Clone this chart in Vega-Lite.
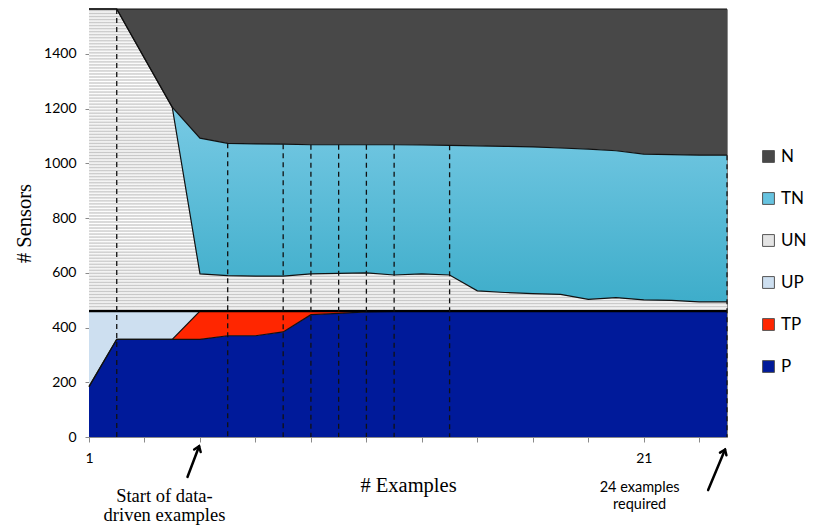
{
  "$schema": "https://vega.github.io/schema/vega-lite/v6.json",
  "width": 638,
  "height": 428,
  "autosize": "none",
  "padding": {"left": 89, "top": 9, "right": 87, "bottom": 90},
  "background": "white",
  "config": {"view": {"stroke": "#8a8a8a", "strokeWidth": 1}},
  "datasets": {
    "cats": [
      {"cat": "P", "ord": 1}, {"cat": "TP", "ord": 2}, {"cat": "UP", "ord": 3},
      {"cat": "UN", "ord": 4}, {"cat": "TN", "ord": 5}, {"cat": "N", "ord": 6}
    ],
    "main": [
      {"ex":1,"cat":"P","v":184},{"ex":2,"cat":"P","v":357},{"ex":3,"cat":"P","v":357},{"ex":4,"cat":"P","v":357},{"ex":5,"cat":"P","v":357},{"ex":6,"cat":"P","v":370},{"ex":7,"cat":"P","v":370},{"ex":8,"cat":"P","v":384},{"ex":9,"cat":"P","v":447},{"ex":10,"cat":"P","v":452},{"ex":11,"cat":"P","v":457},{"ex":12,"cat":"P","v":459},{"ex":13,"cat":"P","v":460},{"ex":14,"cat":"P","v":460},{"ex":15,"cat":"P","v":460},{"ex":16,"cat":"P","v":460},{"ex":17,"cat":"P","v":460},{"ex":18,"cat":"P","v":460},{"ex":19,"cat":"P","v":460},{"ex":20,"cat":"P","v":460},{"ex":21,"cat":"P","v":460},{"ex":22,"cat":"P","v":460},{"ex":23,"cat":"P","v":460},{"ex":24,"cat":"P","v":460},
      {"ex":1,"cat":"TP","v":0},{"ex":2,"cat":"TP","v":0},{"ex":3,"cat":"TP","v":0},{"ex":4,"cat":"TP","v":0},{"ex":5,"cat":"TP","v":103},{"ex":6,"cat":"TP","v":90},{"ex":7,"cat":"TP","v":90},{"ex":8,"cat":"TP","v":76},{"ex":9,"cat":"TP","v":13},{"ex":10,"cat":"TP","v":8},{"ex":11,"cat":"TP","v":3},{"ex":12,"cat":"TP","v":1},{"ex":13,"cat":"TP","v":0},{"ex":14,"cat":"TP","v":0},{"ex":15,"cat":"TP","v":0},{"ex":16,"cat":"TP","v":0},{"ex":17,"cat":"TP","v":0},{"ex":18,"cat":"TP","v":0},{"ex":19,"cat":"TP","v":0},{"ex":20,"cat":"TP","v":0},{"ex":21,"cat":"TP","v":0},{"ex":22,"cat":"TP","v":0},{"ex":23,"cat":"TP","v":0},{"ex":24,"cat":"TP","v":0},
      {"ex":1,"cat":"UP","v":276},{"ex":2,"cat":"UP","v":103},{"ex":3,"cat":"UP","v":103},{"ex":4,"cat":"UP","v":103},{"ex":5,"cat":"UP","v":0},{"ex":6,"cat":"UP","v":0},{"ex":7,"cat":"UP","v":0},{"ex":8,"cat":"UP","v":0},{"ex":9,"cat":"UP","v":0},{"ex":10,"cat":"UP","v":0},{"ex":11,"cat":"UP","v":0},{"ex":12,"cat":"UP","v":0},{"ex":13,"cat":"UP","v":0},{"ex":14,"cat":"UP","v":0},{"ex":15,"cat":"UP","v":0},{"ex":16,"cat":"UP","v":0},{"ex":17,"cat":"UP","v":0},{"ex":18,"cat":"UP","v":0},{"ex":19,"cat":"UP","v":0},{"ex":20,"cat":"UP","v":0},{"ex":21,"cat":"UP","v":0},{"ex":22,"cat":"UP","v":0},{"ex":23,"cat":"UP","v":0},{"ex":24,"cat":"UP","v":0},
      {"ex":1,"cat":"UN","v":1104},{"ex":2,"cat":"UN","v":1104},{"ex":3,"cat":"UN","v":924},{"ex":4,"cat":"UN","v":745},{"ex":5,"cat":"UN","v":136},{"ex":6,"cat":"UN","v":130},{"ex":7,"cat":"UN","v":128},{"ex":8,"cat":"UN","v":128},{"ex":9,"cat":"UN","v":136},{"ex":10,"cat":"UN","v":138},{"ex":11,"cat":"UN","v":140},{"ex":12,"cat":"UN","v":132},{"ex":13,"cat":"UN","v":136},{"ex":14,"cat":"UN","v":132},{"ex":15,"cat":"UN","v":74},{"ex":16,"cat":"UN","v":68},{"ex":17,"cat":"UN","v":64},{"ex":18,"cat":"UN","v":61},{"ex":19,"cat":"UN","v":43},{"ex":20,"cat":"UN","v":49},{"ex":21,"cat":"UN","v":41},{"ex":22,"cat":"UN","v":39},{"ex":23,"cat":"UN","v":34},{"ex":24,"cat":"UN","v":34},
      {"ex":1,"cat":"TN","v":0},{"ex":2,"cat":"TN","v":0},{"ex":3,"cat":"TN","v":0},{"ex":4,"cat":"TN","v":0},{"ex":5,"cat":"TN","v":496},{"ex":6,"cat":"TN","v":483},{"ex":7,"cat":"TN","v":483},{"ex":8,"cat":"TN","v":482},{"ex":9,"cat":"TN","v":472},{"ex":10,"cat":"TN","v":470},{"ex":11,"cat":"TN","v":468},{"ex":12,"cat":"TN","v":476},{"ex":13,"cat":"TN","v":471},{"ex":14,"cat":"TN","v":474},{"ex":15,"cat":"TN","v":530},{"ex":16,"cat":"TN","v":534},{"ex":17,"cat":"TN","v":536},{"ex":18,"cat":"TN","v":535},{"ex":19,"cat":"TN","v":549},{"ex":20,"cat":"TN","v":537},{"ex":21,"cat":"TN","v":533},{"ex":22,"cat":"TN","v":533},{"ex":23,"cat":"TN","v":536},{"ex":24,"cat":"TN","v":536},
      {"ex":1,"cat":"N","v":0},{"ex":2,"cat":"N","v":0},{"ex":3,"cat":"N","v":180},{"ex":4,"cat":"N","v":359},{"ex":5,"cat":"N","v":472},{"ex":6,"cat":"N","v":491},{"ex":7,"cat":"N","v":493},{"ex":8,"cat":"N","v":494},{"ex":9,"cat":"N","v":496},{"ex":10,"cat":"N","v":496},{"ex":11,"cat":"N","v":496},{"ex":12,"cat":"N","v":496},{"ex":13,"cat":"N","v":497},{"ex":14,"cat":"N","v":498},{"ex":15,"cat":"N","v":500},{"ex":16,"cat":"N","v":502},{"ex":17,"cat":"N","v":504},{"ex":18,"cat":"N","v":508},{"ex":19,"cat":"N","v":512},{"ex":20,"cat":"N","v":518},{"ex":21,"cat":"N","v":530},{"ex":22,"cat":"N","v":532},{"ex":23,"cat":"N","v":534},{"ex":24,"cat":"N","v":534}
    ]
  },
  "layer": [
    {
      "data": {"name": "main"},
      "transform": [
        {"lookup": "cat", "from": {"data": {"name": "cats"}, "key": "cat", "fields": ["ord"]}},
        {"stack": "v", "groupby": ["ex"], "sort": [{"field": "ord", "order": "ascending"}], "as": ["v0", "v1"]}
      ],
      "layer": [
        {
          "mark": {"type": "area", "interpolate": "linear"},
          "encoding": {
            "x": {"field": "ex", "type": "quantitative",
              "scale": {"domain": [1, 24], "nice": false, "zero": false},
              "axis": {"title": "# Examples", "values": [1,2,3,4,5,6,7,8,9,10,11,12,13,14,15,16,17,18,19,20,21,22,23,24],
                "labelExpr": "datum.value == 1 || datum.value == 21 ? datum.label : ''",
                "grid": false, "labelFlush": false, "tickColor": "#8a8a8a", "domainColor": "#8a8a8a", "tickSize": 5,
                "labelFont": "Lato", "labelFontSize": 14, "labelColor": "#000", "labelPadding": 9,
                "titleFont": "Liberation Serif", "titleFontSize": 20.5, "titleFontWeight": "normal", "titleColor": "#000", "titlePadding": 10}},
            "y": {"field": "v1", "type": "quantitative", "stack": null,
              "scale": {"domain": [0, 1564], "nice": false, "zero": true},
              "axis": {"title": "# Sensors", "values": [0,200,400,600,800,1000,1200,1400], "format": "d",
                "grid": false, "tickColor": "#8a8a8a", "domainColor": "#8a8a8a", "tickSize": 4,
                "labelFont": "Lato", "labelFontSize": 14, "labelColor": "#000", "labelPadding": 9,
                "titleFont": "Liberation Serif", "titleFontSize": 20.5, "titleFontWeight": "normal", "titleColor": "#000", "titlePadding": 9}},
            "y2": {"field": "v0"},
            "color": {"field": "cat", "type": "nominal",
              "scale": {"domain": ["N","TN","UN","UP","TP","P"], "range": ["#484848","#66c3e0","#e4e4e4","#cddff0","#ff2600","#001a9a"]},
              "legend": {"orient": "none", "legendX": 671, "legendY": 139, "title": null,
                "symbolType": "square", "symbolSize": 140, "symbolStrokeColor": "#555", "symbolStrokeWidth": 1,
                "labelFont": "Lato", "labelFontSize": 17, "labelColor": "#000", "rowPadding": 24, "labelOffset": 4}}
          }
        },
        {
          "transform": [{"filter": {"field": "cat", "equal": "UN"}}],
          "mark": {"type": "area", "interpolate": "linear",
            "fill": {"gradient": "linear", "x1": 0, "y1": 0, "x2": 0, "y2": 1,
              "stops": [
{"offset":0,"color":"#fff"},{"offset":0.005,"color":"#c8c8c8"},{"offset":0.01,"color":"#fff"},{"offset":0.015,"color":"#c8c8c8"},{"offset":0.02,"color":"#fff"},{"offset":0.025,"color":"#c8c8c8"},{"offset":0.03,"color":"#fff"},{"offset":0.035,"color":"#c8c8c8"},{"offset":0.04,"color":"#fff"},{"offset":0.045,"color":"#c8c8c8"},
{"offset":0.05,"color":"#fff"},{"offset":0.055,"color":"#c8c8c8"},{"offset":0.06,"color":"#fff"},{"offset":0.065,"color":"#c8c8c8"},{"offset":0.07,"color":"#fff"},{"offset":0.075,"color":"#c8c8c8"},{"offset":0.08,"color":"#fff"},{"offset":0.085,"color":"#c8c8c8"},{"offset":0.09,"color":"#fff"},{"offset":0.095,"color":"#c8c8c8"},
{"offset":0.1,"color":"#fff"},{"offset":0.105,"color":"#c8c8c8"},{"offset":0.11,"color":"#fff"},{"offset":0.115,"color":"#c8c8c8"},{"offset":0.12,"color":"#fff"},{"offset":0.125,"color":"#c8c8c8"},{"offset":0.13,"color":"#fff"},{"offset":0.135,"color":"#c8c8c8"},{"offset":0.14,"color":"#fff"},{"offset":0.145,"color":"#c8c8c8"},
{"offset":0.15,"color":"#fff"},{"offset":0.155,"color":"#c8c8c8"},{"offset":0.16,"color":"#fff"},{"offset":0.165,"color":"#c8c8c8"},{"offset":0.17,"color":"#fff"},{"offset":0.175,"color":"#c8c8c8"},{"offset":0.18,"color":"#fff"},{"offset":0.185,"color":"#c8c8c8"},{"offset":0.19,"color":"#fff"},{"offset":0.195,"color":"#c8c8c8"},
{"offset":0.2,"color":"#fff"},{"offset":0.205,"color":"#c8c8c8"},{"offset":0.21,"color":"#fff"},{"offset":0.215,"color":"#c8c8c8"},{"offset":0.22,"color":"#fff"},{"offset":0.225,"color":"#c8c8c8"},{"offset":0.23,"color":"#fff"},{"offset":0.235,"color":"#c8c8c8"},{"offset":0.24,"color":"#fff"},{"offset":0.245,"color":"#c8c8c8"},
{"offset":0.25,"color":"#fff"},{"offset":0.255,"color":"#c8c8c8"},{"offset":0.26,"color":"#fff"},{"offset":0.265,"color":"#c8c8c8"},{"offset":0.27,"color":"#fff"},{"offset":0.275,"color":"#c8c8c8"},{"offset":0.28,"color":"#fff"},{"offset":0.285,"color":"#c8c8c8"},{"offset":0.29,"color":"#fff"},{"offset":0.295,"color":"#c8c8c8"},
{"offset":0.3,"color":"#fff"},{"offset":0.305,"color":"#c8c8c8"},{"offset":0.31,"color":"#fff"},{"offset":0.315,"color":"#c8c8c8"},{"offset":0.32,"color":"#fff"},{"offset":0.325,"color":"#c8c8c8"},{"offset":0.33,"color":"#fff"},{"offset":0.335,"color":"#c8c8c8"},{"offset":0.34,"color":"#fff"},{"offset":0.345,"color":"#c8c8c8"},
{"offset":0.35,"color":"#fff"},{"offset":0.355,"color":"#c8c8c8"},{"offset":0.36,"color":"#fff"},{"offset":0.365,"color":"#c8c8c8"},{"offset":0.37,"color":"#fff"},{"offset":0.375,"color":"#c8c8c8"},{"offset":0.38,"color":"#fff"},{"offset":0.385,"color":"#c8c8c8"},{"offset":0.39,"color":"#fff"},{"offset":0.395,"color":"#c8c8c8"},
{"offset":0.4,"color":"#fff"},{"offset":0.405,"color":"#c8c8c8"},{"offset":0.41,"color":"#fff"},{"offset":0.415,"color":"#c8c8c8"},{"offset":0.42,"color":"#fff"},{"offset":0.425,"color":"#c8c8c8"},{"offset":0.43,"color":"#fff"},{"offset":0.435,"color":"#c8c8c8"},{"offset":0.44,"color":"#fff"},{"offset":0.445,"color":"#c8c8c8"},
{"offset":0.45,"color":"#fff"},{"offset":0.455,"color":"#c8c8c8"},{"offset":0.46,"color":"#fff"},{"offset":0.465,"color":"#c8c8c8"},{"offset":0.47,"color":"#fff"},{"offset":0.475,"color":"#c8c8c8"},{"offset":0.48,"color":"#fff"},{"offset":0.485,"color":"#c8c8c8"},{"offset":0.49,"color":"#fff"},{"offset":0.495,"color":"#c8c8c8"},
{"offset":0.5,"color":"#fff"},{"offset":0.505,"color":"#c8c8c8"},{"offset":0.51,"color":"#fff"},{"offset":0.515,"color":"#c8c8c8"},{"offset":0.52,"color":"#fff"},{"offset":0.525,"color":"#c8c8c8"},{"offset":0.53,"color":"#fff"},{"offset":0.535,"color":"#c8c8c8"},{"offset":0.54,"color":"#fff"},{"offset":0.545,"color":"#c8c8c8"},
{"offset":0.55,"color":"#fff"},{"offset":0.555,"color":"#c8c8c8"},{"offset":0.56,"color":"#fff"},{"offset":0.565,"color":"#c8c8c8"},{"offset":0.57,"color":"#fff"},{"offset":0.575,"color":"#c8c8c8"},{"offset":0.58,"color":"#fff"},{"offset":0.585,"color":"#c8c8c8"},{"offset":0.59,"color":"#fff"},{"offset":0.595,"color":"#c8c8c8"},
{"offset":0.6,"color":"#fff"},{"offset":0.605,"color":"#c8c8c8"},{"offset":0.61,"color":"#fff"},{"offset":0.615,"color":"#c8c8c8"},{"offset":0.62,"color":"#fff"},{"offset":0.625,"color":"#c8c8c8"},{"offset":0.63,"color":"#fff"},{"offset":0.635,"color":"#c8c8c8"},{"offset":0.64,"color":"#fff"},{"offset":0.645,"color":"#c8c8c8"},
{"offset":0.65,"color":"#fff"},{"offset":0.655,"color":"#c8c8c8"},{"offset":0.66,"color":"#fff"},{"offset":0.665,"color":"#c8c8c8"},{"offset":0.67,"color":"#fff"},{"offset":0.675,"color":"#c8c8c8"},{"offset":0.68,"color":"#fff"},{"offset":0.685,"color":"#c8c8c8"},{"offset":0.69,"color":"#fff"},{"offset":0.695,"color":"#c8c8c8"},
{"offset":0.7,"color":"#fff"},{"offset":0.705,"color":"#c8c8c8"},{"offset":0.71,"color":"#fff"},{"offset":0.715,"color":"#c8c8c8"},{"offset":0.72,"color":"#fff"},{"offset":0.725,"color":"#c8c8c8"},{"offset":0.73,"color":"#fff"},{"offset":0.735,"color":"#c8c8c8"},{"offset":0.74,"color":"#fff"},{"offset":0.745,"color":"#c8c8c8"},
{"offset":0.75,"color":"#fff"},{"offset":0.755,"color":"#c8c8c8"},{"offset":0.76,"color":"#fff"},{"offset":0.765,"color":"#c8c8c8"},{"offset":0.77,"color":"#fff"},{"offset":0.775,"color":"#c8c8c8"},{"offset":0.78,"color":"#fff"},{"offset":0.785,"color":"#c8c8c8"},{"offset":0.79,"color":"#fff"},{"offset":0.795,"color":"#c8c8c8"},
{"offset":0.8,"color":"#fff"},{"offset":0.805,"color":"#c8c8c8"},{"offset":0.81,"color":"#fff"},{"offset":0.815,"color":"#c8c8c8"},{"offset":0.82,"color":"#fff"},{"offset":0.825,"color":"#c8c8c8"},{"offset":0.83,"color":"#fff"},{"offset":0.835,"color":"#c8c8c8"},{"offset":0.84,"color":"#fff"},{"offset":0.845,"color":"#c8c8c8"},
{"offset":0.85,"color":"#fff"},{"offset":0.855,"color":"#c8c8c8"},{"offset":0.86,"color":"#fff"},{"offset":0.865,"color":"#c8c8c8"},{"offset":0.87,"color":"#fff"},{"offset":0.875,"color":"#c8c8c8"},{"offset":0.88,"color":"#fff"},{"offset":0.885,"color":"#c8c8c8"},{"offset":0.89,"color":"#fff"},{"offset":0.895,"color":"#c8c8c8"},
{"offset":0.9,"color":"#fff"},{"offset":0.905,"color":"#c8c8c8"},{"offset":0.91,"color":"#fff"},{"offset":0.915,"color":"#c8c8c8"},{"offset":0.92,"color":"#fff"},{"offset":0.925,"color":"#c8c8c8"},{"offset":0.93,"color":"#fff"},{"offset":0.935,"color":"#c8c8c8"},{"offset":0.94,"color":"#fff"},{"offset":0.945,"color":"#c8c8c8"},
{"offset":0.95,"color":"#fff"},{"offset":0.955,"color":"#c8c8c8"},{"offset":0.96,"color":"#fff"},{"offset":0.965,"color":"#c8c8c8"},{"offset":0.97,"color":"#fff"},{"offset":0.975,"color":"#c8c8c8"},{"offset":0.98,"color":"#fff"},{"offset":0.985,"color":"#c8c8c8"},{"offset":0.99,"color":"#fff"},{"offset":0.995,"color":"#c8c8c8"},
{"offset":1,"color":"#fff"}
              ]}},
          "encoding": {
            "x": {"field": "ex", "type": "quantitative"},
            "y": {"field": "v1", "type": "quantitative", "stack": null},
            "y2": {"field": "v0"}
          }
        },
        {
          "transform": [{"filter": {"field": "cat", "equal": "TN"}}],
          "mark": {"type": "area", "interpolate": "linear",
            "fill": {"gradient": "linear", "x1": 0, "y1": 0, "x2": 0, "y2": 1,
              "stops": [{"offset": 0, "color": "#9adcf2"}, {"offset": 0.2, "color": "#84d0ea"}, {"offset": 1, "color": "#3eadca"}]}},
          "encoding": {
            "x": {"field": "ex", "type": "quantitative"},
            "y": {"field": "v1", "type": "quantitative", "stack": null},
            "y2": {"field": "v0"}
          }
        },
        {
          "mark": {"type": "line", "color": "#111", "strokeWidth": 1.2, "interpolate": "linear"},
          "encoding": {
            "x": {"field": "ex", "type": "quantitative"},
            "y": {"field": "v1", "type": "quantitative", "stack": null},
            "detail": {"field": "cat"}
          }
        },
        {
          "transform": [{"filter": {"field": "cat", "equal": "UP"}}],
          "mark": {"type": "line", "color": "#000", "strokeWidth": 2.4, "interpolate": "linear"},
          "encoding": {
            "x": {"field": "ex", "type": "quantitative"},
            "y": {"field": "v1", "type": "quantitative", "stack": null}
          }
        },
        {
          "transform": [{"filter": {"and": [{"field": "cat", "equal": "TN"}, {"field": "ex", "oneOf": [2,6,8,9,10,11,12,14,24]}]}}],
          "mark": {"type": "rule", "color": "#111", "strokeWidth": 1.3, "strokeDash": [5, 4]},
          "encoding": {
            "x": {"field": "ex", "type": "quantitative"},
            "y": {"field": "v1", "type": "quantitative", "stack": null},
            "y2": {"datum": 0}
          }
        }
      ]
    },
    {
      "data": {"values": [{}]},
      "mark": {"type": "rule", "color": "#000", "strokeWidth": 2.5, "strokeCap": "round"},
      "encoding": {"x": {"datum": 4.55}, "y": {"datum": -146}, "x2": {"datum": 4.97}, "y2": {"datum": -34}}
    },
    {
      "data": {"values": [{}]},
      "mark": {"type": "point", "shape": "M -0.55 0.75 L 0 0 L 0.55 0.75", "filled": false, "stroke": "#000", "strokeWidth": 2.5, "size": 160, "angle": 21, "opacity": 1, "strokeCap": "round", "strokeJoin": "miter"},
      "encoding": {"x": {"datum": 4.97}, "y": {"datum": -34}}
    },
    {
      "data": {"values": [{}]},
      "mark": {"type": "rule", "color": "#000", "strokeWidth": 2.5, "strokeCap": "round"},
      "encoding": {"x": {"datum": 23.32}, "y": {"datum": -194}, "x2": {"datum": 23.93}, "y2": {"datum": -46}}
    },
    {
      "data": {"values": [{}]},
      "mark": {"type": "point", "shape": "M -0.55 0.75 L 0 0 L 0.55 0.75", "filled": false, "stroke": "#000", "strokeWidth": 2.5, "size": 160, "angle": 23, "opacity": 1, "strokeCap": "round", "strokeJoin": "miter"},
      "encoding": {"x": {"datum": 23.93}, "y": {"datum": -46}}
    },
    {
      "data": {"values": [{}]},
      "mark": {"type": "text", "text": ["Start of data-", "driven examples"], "font": "Liberation Serif", "fontSize": 18.5, "lineHeight": 19, "align": "center", "baseline": "top", "color": "#000"},
      "encoding": {"x": {"datum": 3.72}, "y": {"datum": -184}}
    },
    {
      "data": {"values": [{}]},
      "mark": {"type": "text", "text": ["24 examples", "required"], "font": "Lato", "fontSize": 14.5, "lineHeight": 17, "align": "center", "baseline": "top", "color": "#000"},
      "encoding": {"x": {"datum": 20.85}, "y": {"datum": -160}}
    }
  ]
}
